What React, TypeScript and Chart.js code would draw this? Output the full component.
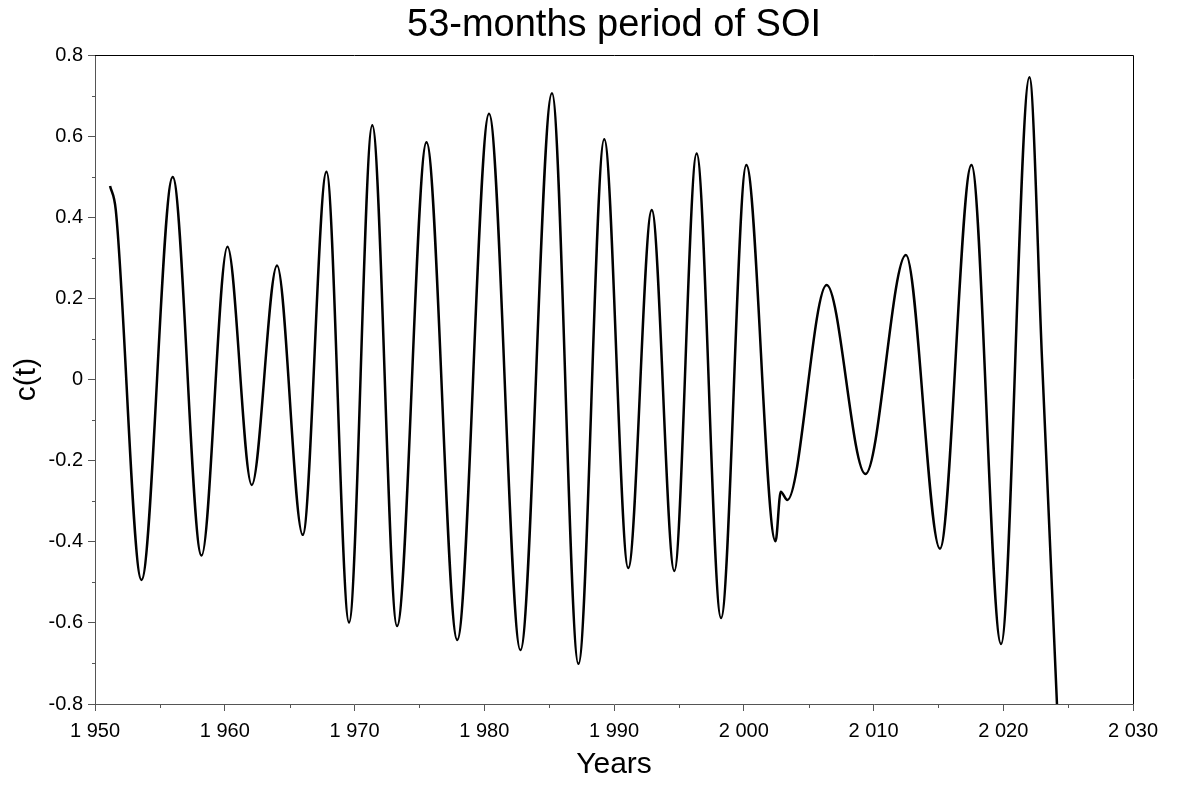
import React, { useEffect, useRef } from "react";
import { Chart, registerables } from "chart.js";

Chart.register(...registerables);

const TITLE = "53-months period of SOI";
const X_TITLE = "Years";
const Y_TITLE = "c(t)";

// turning points (and a few shape points)
const years = [
  1951.16, 1951.6, 1953.58, 1955.99, 1958.21, 1960.21, 1962.08, 1964.03, 1966.01,
  1967.84, 1969.58, 1971.37, 1973.28, 1975.55, 1977.92, 1980.37, 1982.79, 1985.22,
  1987.26, 1989.25, 1991.1, 1992.91, 1994.65, 1996.37, 1998.25, 2000.2, 2002.45,
  2002.85, 2003.36, 2006.39, 2009.38, 2012.5, 2015.12, 2017.55, 2019.83, 2022.02,
  2022.99, 2024.14,
];
const values = [
  0.477, 0.418, -0.494, 0.499, -0.434, 0.327, -0.26, 0.281, -0.383,
  0.512, -0.599, 0.627, -0.608, 0.585, -0.642, 0.655, -0.667, 0.706,
  -0.701, 0.592, -0.465, 0.418, -0.472, 0.557, -0.588, 0.529, -0.399,
  -0.277, -0.297, 0.233, -0.233, 0.307, -0.417, 0.529, -0.652, 0.745,
  0.048, -0.8,
];

const X_MIN = 1950;
const X_MAX = 2030;
const Y_MIN = -0.8;
const Y_MAX = 0.8;
const X_MAJOR = 10;
const Y_MAJOR = 0.2;
const X_MINOR = [1955, 1965, 1975, 1985, 1995, 2005, 2015, 2025];
const Y_MINOR = [-0.7, -0.5, -0.3, -0.1, 0.1, 0.3, 0.5, 0.7];

const AXIS_COLOR = "#555555";
const FONT = "'Liberation Sans', Arial, sans-serif";

const frameAndMinorTicks = {
  id: "frameAndMinorTicks",
  afterDraw(chart: any) {
    const { ctx, chartArea, scales } = chart;
    const xs = scales.x;
    const ys = scales.y;
    ctx.save();
    ctx.lineWidth = 1;
    ctx.strokeStyle = AXIS_COLOR;
    ctx.beginPath();
    for (const v of X_MINOR) {
      const px = Math.round(xs.getPixelForValue(v)) + 0.5;
      ctx.moveTo(px, chartArea.bottom);
      ctx.lineTo(px, chartArea.bottom + 4);
    }
    for (const v of Y_MINOR) {
      const py = Math.round(ys.getPixelForValue(v)) + 0.5;
      ctx.moveTo(chartArea.left - 3, py);
      ctx.lineTo(chartArea.left, py);
    }
    ctx.stroke();
    ctx.strokeStyle = "#000000";
    ctx.beginPath();
    const t = Math.round(chartArea.top) + 0.5;
    const r = Math.round(chartArea.right) + 0.5;
    ctx.moveTo(chartArea.left, t);
    ctx.lineTo(r, t);
    ctx.lineTo(r, chartArea.bottom);
    ctx.stroke();
    ctx.restore();
  },
};

export default function App() {
  const ref = useRef<HTMLCanvasElement | null>(null);

  useEffect(() => {
    if (!ref.current) return;
    Chart.defaults.font.family = FONT;
    const chart = new Chart(ref.current, {
      type: "line",
      data: {
        datasets: [
          {
            data: years.map((x, i) => ({ x, y: values[i] })),
            borderColor: "#000000",
            borderWidth: 2.5,
            pointRadius: 0,
            fill: false,
            cubicInterpolationMode: "monotone",
          },
        ],
      },
      options: {
        animation: false,
        responsive: false,
        layout: { padding: { left: 0, right: 49, top: 0, bottom: 0 } },
        plugins: {
          legend: { display: false },
          tooltip: { enabled: false },
          title: {
            display: true,
            text: TITLE,
            fullSize: false,
            color: "#000000",
            font: { family: FONT, size: 38, weight: "normal", lineHeight: 1 },
            padding: { top: 7, bottom: 10 },
          },
        },
        scales: {
          x: {
            type: "linear",
            min: X_MIN,
            max: X_MAX,
            afterFit(scale: any) {
              scale.height = 81;
            },
            ticks: {
              stepSize: X_MAJOR,
              color: "#000000",
              padding: 8,
              maxRotation: 0,
              font: { family: FONT, size: 20 },
              callback: (v: any) => {
                const s = String(Math.round(Number(v)));
                return s.length === 4 ? s[0] + " " + s.slice(1) : s;
              },
            },
            grid: {
              display: true,
              drawOnChartArea: false,
              drawTicks: true,
              tickLength: 7,
              tickColor: AXIS_COLOR,
            },
            border: { display: true, color: AXIS_COLOR, width: 1 },
            title: {
              display: true,
              text: X_TITLE,
              color: "#000000",
              font: { family: FONT, size: 30, lineHeight: 1 },
              padding: { top: 0, bottom: 5 },
            },
          },
          y: {
            type: "linear",
            min: Y_MIN,
            max: Y_MAX,
            afterFit(scale: any) {
              scale.width = 95;
            },
            ticks: {
              stepSize: Y_MAJOR,
              color: "#000000",
              padding: 5,
              font: { family: FONT, size: 20 },
              callback: (v: any) => {
                const n = Math.round(Number(v) * 10) / 10;
                return n === 0 ? "0" : n.toFixed(1);
              },
            },
            grid: {
              display: true,
              drawOnChartArea: false,
              drawTicks: true,
              tickLength: 7,
              tickColor: AXIS_COLOR,
            },
            border: { display: true, color: AXIS_COLOR, width: 1 },
            title: {
              display: true,
              text: Y_TITLE,
              color: "#000000",
              font: { family: FONT, size: 30, lineHeight: 1 },
              padding: { top: 12, bottom: 0 },
            },
          },
        },
      },
      plugins: [frameAndMinorTicks],
    } as any);
    return () => chart.destroy();
  }, []);

  return (
    <div style={{ position: "absolute", left: 0, top: 0, width: 1182, height: 785, background: "#ffffff" }}>
      <canvas ref={ref} width={1182} height={785} style={{ display: "block" }} />
    </div>
  );
}
